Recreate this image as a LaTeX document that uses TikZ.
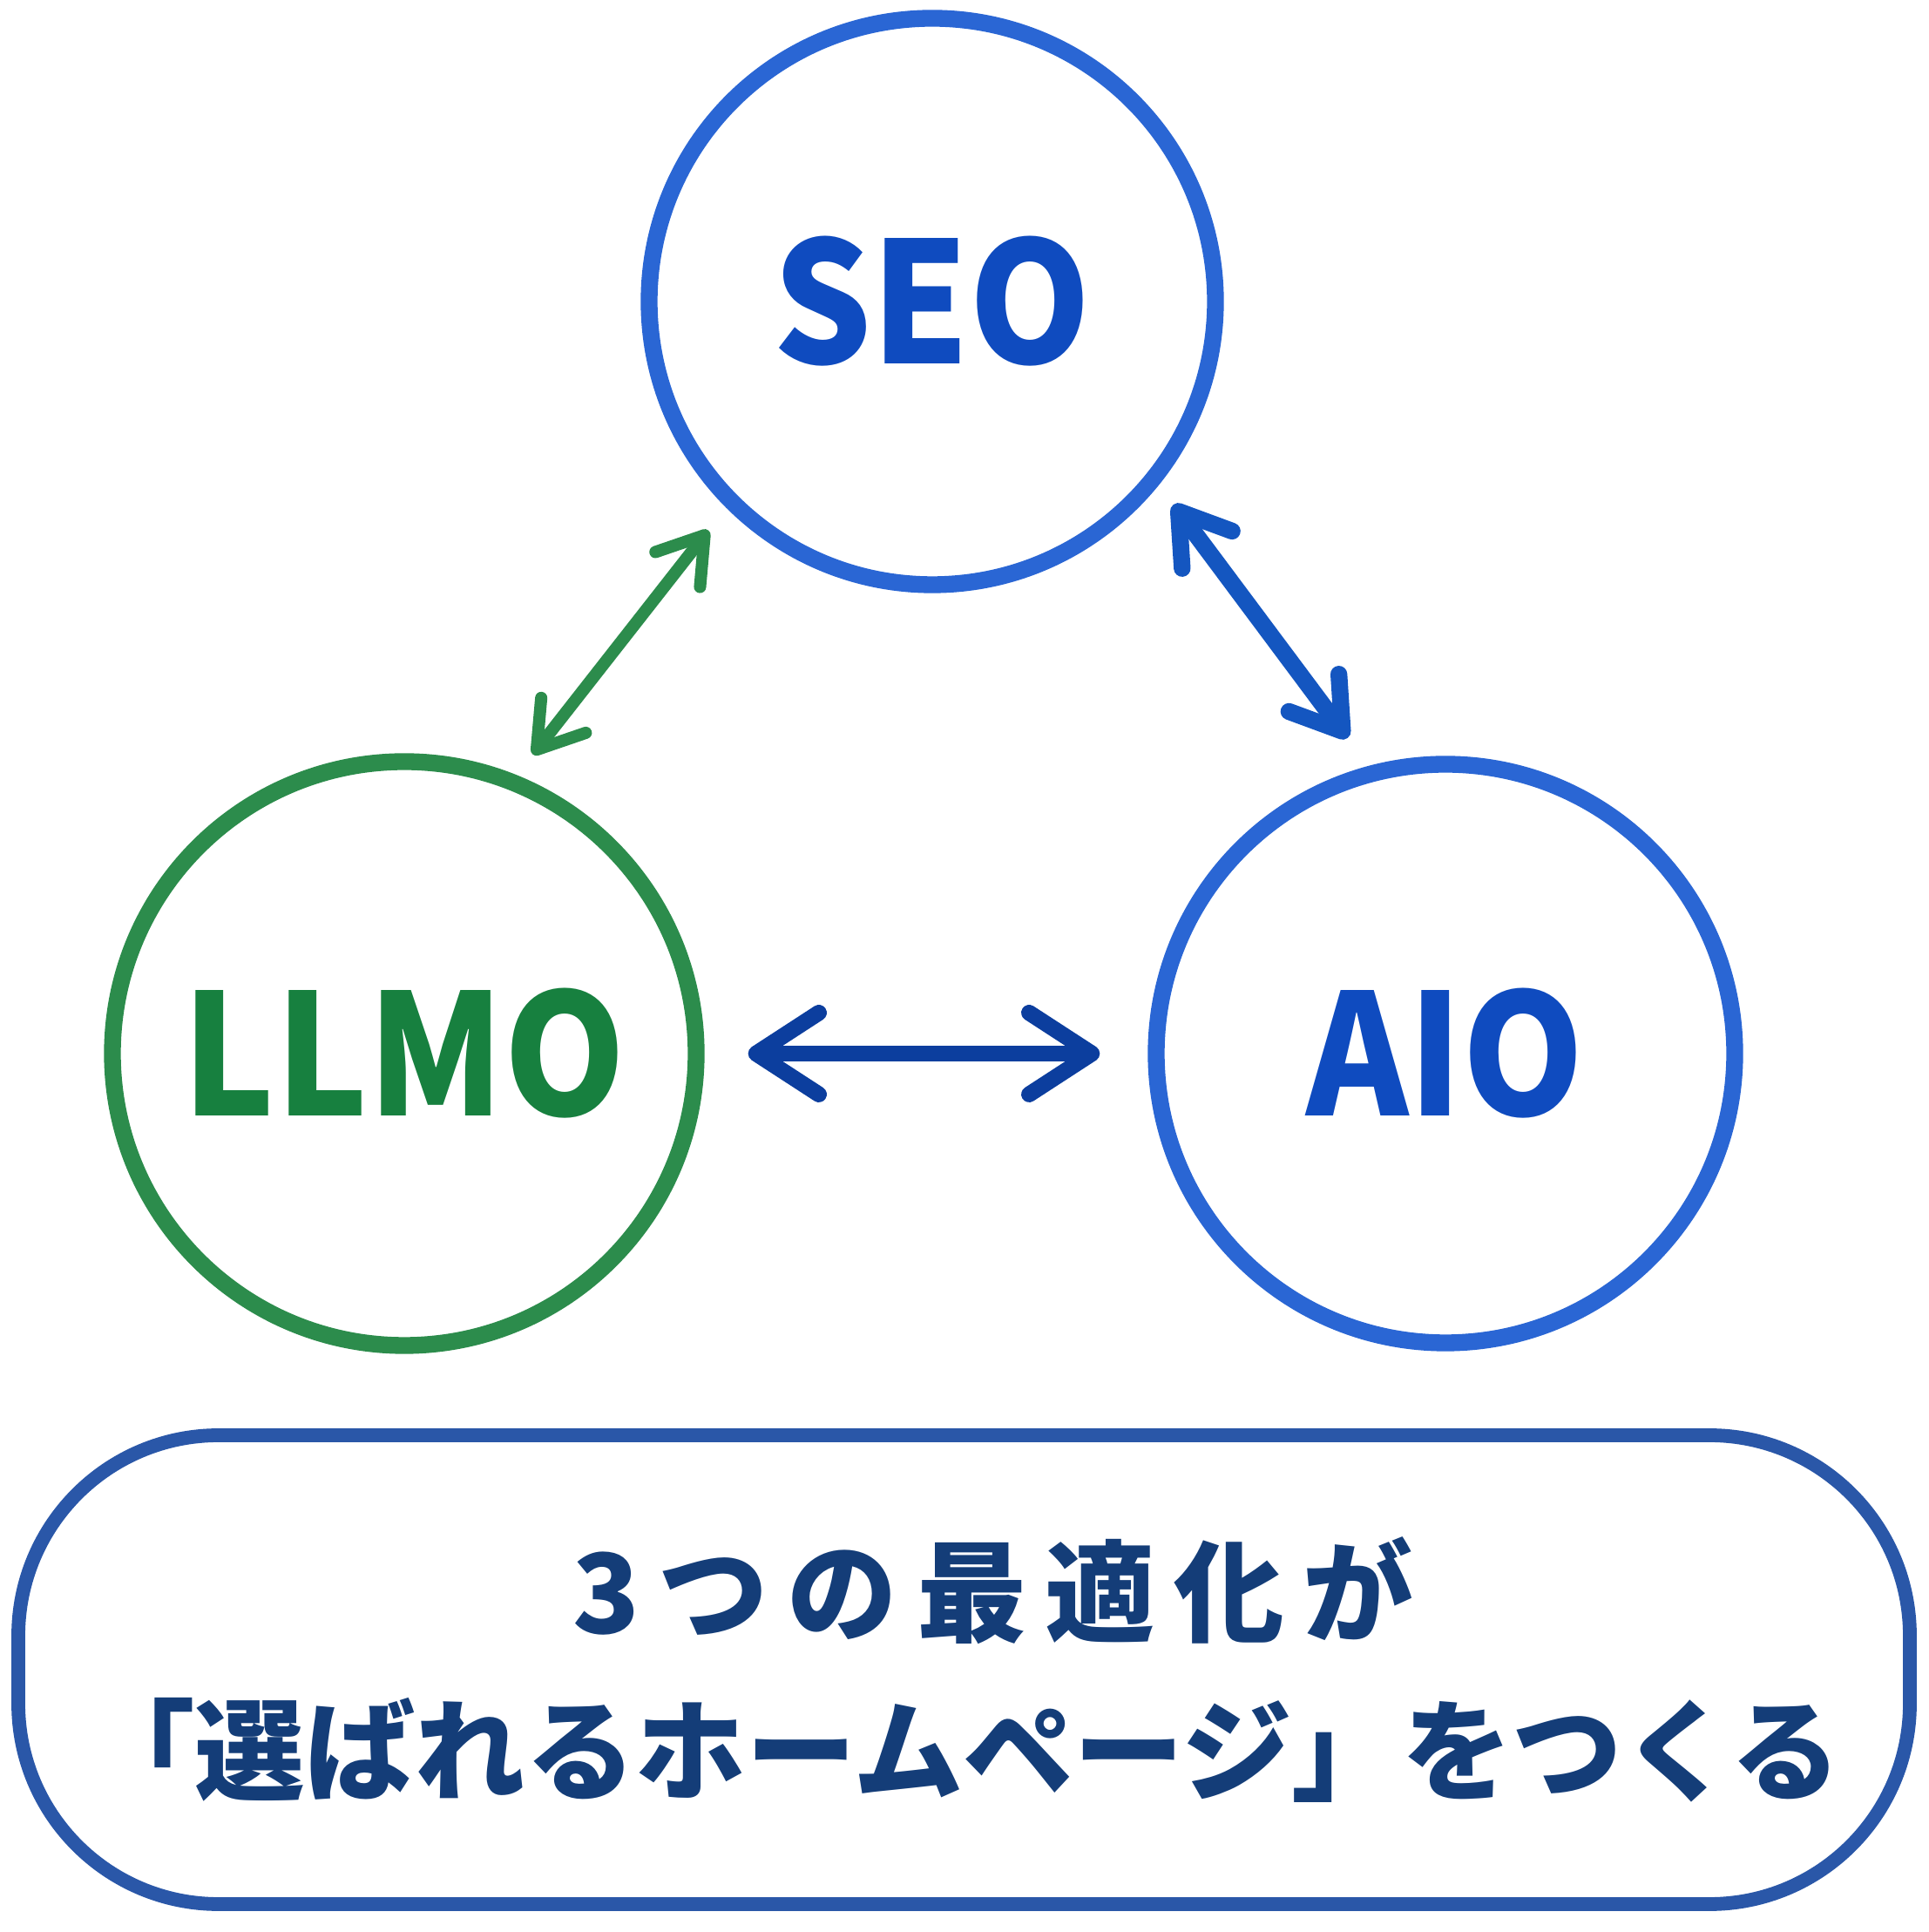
\documentclass[tikz,border=0pt]{standalone}
\usepackage{fontspec}
\setmainfont{Noto Sans CJK JP}
\newfontfamily\labelfont[FakeStretch=0.92]{Noto Sans CJK JP}
\usetikzlibrary{arrows.meta}
\definecolor{OptBlue}{HTML}{2A66D4}
\definecolor{OptBlueText}{HTML}{0F4BBF}
\definecolor{OptGreen}{HTML}{2C8C4C}
\definecolor{OptGreenText}{HTML}{17803F}
\definecolor{OptArrowBlue}{HTML}{1456C0}
\definecolor{OptNavy}{HTML}{0C3E9E}
\definecolor{OptBoxLine}{HTML}{2A57A8}
\definecolor{OptBoxText}{HTML}{143D78}

\begin{document}
\begin{tikzpicture}[
    bubble/.style={circle,draw,line width=5.5pt,inner sep=0pt,
      font=\fontsize{55}{60}\labelfont\bfseries},
    link/.style={line cap=round,
      {Straight Barb[length=#1,width=1.3*#1,round]}-{Straight Barb[length=#1,width=1.3*#1,round]}},
  ]
  \useasboundingbox (0,0) rectangle (22.13,22.17);
  % the three circles
  \node[bubble,OptBlue,text=OptBlueText,minimum size=6.5cm] (seo) at (10.70,18.71) {SEO};
  \node[bubble,OptGreen,text=OptGreenText,minimum size=6.7cm] (llmo) at (4.64,10.08) {LLMO};
  \node[bubble,OptBlue,text=OptBlueText,minimum size=6.64cm] (aio) at (16.59,10.08) {AIO};
  % links between them
  \draw[link=0.5cm,OptGreen,line width=4pt,shorten <=0.3cm,shorten >=0.33cm] (llmo.68) -- (seo.225);
  \draw[link=0.55cm,OptArrowBlue,line width=5.5pt,shorten <=0.28cm,shorten >=0.4cm] (seo.-39) -- (aio.105);
  \draw[link=0.72cm,OptNavy,line width=5.2pt,shorten <=0.5cm,shorten >=0.55cm] (llmo.east) -- (aio.west);
  % message box
  \draw[OptBoxLine,line width=4.5pt,rounded corners=2.3cm] (0.21,0.32) rectangle (21.92,5.70);
  \node[text=OptBoxText,align=center,font=\fontsize{36}{52}\selectfont\bfseries] (msg) at (11.40,3.01)
    {{\addfontfeature{LetterSpace=17}3つの最適化が}\\「選ばれるホームページ」をつくる\hspace*{0.7cm}};
\end{tikzpicture}
\end{document}
